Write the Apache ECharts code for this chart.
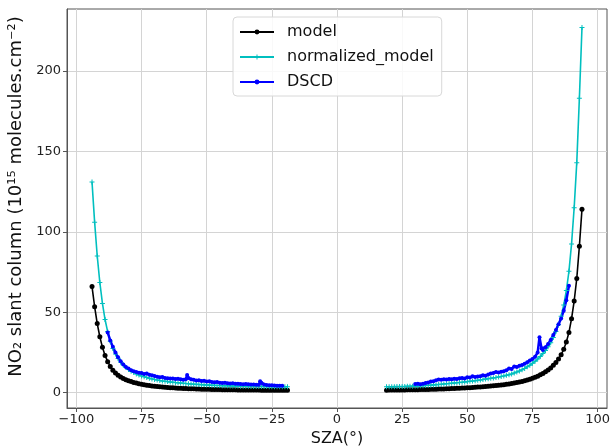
<!DOCTYPE html>
<html>
<head>
<meta charset="utf-8">
<script src="https://cdn.jsdelivr.net/npm/echarts@6/dist/echarts.min.js"></script>
<style>
  html, body { margin: 0; padding: 0; background: #fff; }
  #chart { width: 610px; height: 446px; }
</style>
</head>
<body>
<div id="chart"></div>
<script>
// SZA grid of the model curves (morning / evening)
const modelLeftSza = [-94, -93, -92, -91, -90, -89, -88, -87, -86, -85, -84, -83, -82, -81, -80, -79, -78, -77, -76, -75,
  -74, -73, -72, -71, -70, -69, -68, -67, -66, -65, -64, -63, -62, -61, -60, -59, -58, -57, -56, -55,
  -54, -53, -52, -51, -50, -49, -48, -47, -46, -45, -44, -43, -42, -41, -40, -39, -38, -37, -36, -35,
  -34, -33, -32, -31, -30, -29, -28, -27, -26, -25, -24, -23, -22, -21, -20, -19]
const modelRightSza = [19, 20, 21, 22, 23, 24, 25, 26, 27, 28, 29, 30, 31, 32, 33, 34, 35, 36, 37, 38,
  39, 40, 41, 42, 43, 44, 45, 46, 47, 48, 49, 50, 51, 52, 53, 54, 55, 56, 57, 58,
  59, 60, 61, 62, 63, 64, 65, 66, 67, 68, 69, 70, 71, 72, 73, 74, 75, 76, 77, 78,
  79, 80, 81, 82, 83, 84, 85, 86, 87, 88, 89, 90, 91, 92, 93, 94]

const modelLeft = [66, 53.5, 43, 34.8, 28.2, 23.2, 19.3, 16.3, 14, 12.3, 10.9, 9.8, 8.9, 8.1, 7.5, 6.9, 6.4, 6.0, 5.6, 5.25,
  4.95, 4.7, 4.45, 4.25, 4.05, 3.85, 3.7, 3.55, 3.4, 3.28, 3.16, 3.05, 2.95, 2.85, 2.76, 2.68, 2.6, 2.53, 2.46, 2.4,
  2.34, 2.28, 2.23, 2.18, 2.13, 2.09, 2.05, 2.01, 1.97, 1.94, 1.91, 1.88, 1.85, 1.82, 1.8, 1.78, 1.76, 1.74, 1.72, 1.7,
  1.68, 1.66, 1.65, 1.63, 1.62, 1.6, 1.59, 1.58, 1.57, 1.56, 1.55, 1.54, 1.53, 1.52, 1.51, 1.5]
const modelRight = [1.6, 1.62, 1.64, 1.66, 1.68, 1.7, 1.72, 1.75, 1.78, 1.81, 1.84, 1.87, 1.9, 1.94, 1.98, 2.02, 2.06, 2.1, 2.15, 2.2,
  2.25, 2.3, 2.36, 2.42, 2.48, 2.55, 2.62, 2.7, 2.78, 2.86, 2.95, 3.05, 3.15, 3.25, 3.36, 3.48, 3.6, 3.73, 3.87, 4.0,
  4.15, 4.3, 4.45, 4.6, 4.8, 5.0, 5.2, 5.45, 5.7, 6.0, 6.3, 6.6, 7.0, 7.4, 7.9, 8.4, 9.0, 9.6, 10.3, 11.1,
  12.0, 13.0, 14.1, 15.4, 17.0, 18.8, 21.0, 23.6, 27, 31.5, 37.5, 46, 57, 71, 91, 114]

const normLeft = [131, 106, 85, 68.5, 55.5, 45.5, 38, 32, 27.5, 24, 21.2, 19, 17.2, 15.7, 14.5, 13.4, 12.5, 11.7, 11, 10.4,
  9.9, 9.4, 9.0, 8.6, 8.2, 7.9, 7.6, 7.3, 7.1, 6.9, 6.7, 6.5, 6.3, 6.15, 6.0, 5.85, 5.7, 5.55, 5.45, 5.3,
  5.2, 5.1, 5.0, 4.9, 4.8, 4.72, 4.65, 4.58, 4.51, 4.45, 4.4, 4.35, 4.3, 4.25, 4.2, 4.16, 4.12, 4.08, 4.04, 4.0,
  3.97, 3.94, 3.91, 3.88, 3.85, 3.83, 3.81, 3.79, 3.77, 3.75, 3.74, 3.73, 3.72, 3.71, 3.7, 3.7]
const normRight = [3.7, 3.72, 3.75, 3.78, 3.81, 3.84, 3.88, 3.92, 3.97, 4.02, 4.07, 4.12, 4.2, 4.3, 4.4, 4.5, 4.6, 4.7, 4.85, 5.0,
  5.15, 5.3, 5.45, 5.6, 5.75, 5.9, 6.05, 6.2, 6.38, 6.55, 6.72, 6.9, 7.1, 7.3, 7.5, 7.72, 7.95, 8.2, 8.45, 8.7,
  8.95, 9.2, 9.5, 9.8, 10.1, 10.4, 10.8, 11.2, 11.7, 12.3, 12.9, 13.5, 14.3, 15.1, 16.1, 17.1, 18.3, 19.5, 20.9, 22.5,
  24.3, 26.3, 28.5, 31, 34.3, 38, 42.3, 47.5, 54.5, 63.5, 75.5, 92.5, 115, 143, 183, 227]

const dscdLeftSza = [-88, -87, -86, -85, -84, -83, -82, -81, -80, -79, -78, -77, -76, -75, -74, -73, -72, -71, -70, -69,
  -68, -67, -66, -65, -64, -63, -62, -61, -60, -59, -58, -57.5, -57, -56, -55, -54, -53, -52, -51, -50,
  -49, -48, -47, -46, -45, -44, -43, -42, -41, -40, -39, -38, -37, -36, -35, -34, -33, -32, -31, -30,
  -29.5, -29, -28, -27, -26, -25, -24, -23, -22, -21]
const dscdLeft = [37.5, 32.5, 28.5, 25, 22, 19.5, 17.5, 16, 15, 14, 13.3, 12.8, 12.4, 12.2, 11.6, 12, 11.1, 10.8, 10.4, 10,
  9.6, 9.8, 9.2, 9.0, 8.8, 8.9, 8.5, 8.7, 8.3, 8.1, 8.4, 11, 9.2, 8.3, 8.0, 7.6, 7.8, 7.3, 7.4, 7.0,
  7.1, 6.7, 6.5, 6.6, 6.2, 6.1, 6.2, 5.9, 5.8, 5.9, 5.6, 5.6, 5.4, 5.3, 5.4, 5.2, 5.1, 5.1, 4.9, 5.0,
  7.2, 6.0, 5.1, 4.8, 4.7, 4.6, 4.5, 4.4, 4.4, 4.3]
const dscdRightSza = [30, 31, 32, 33, 34, 35, 36, 37, 38, 39, 40, 41, 42, 43, 44, 45, 46, 47, 48, 49,
  50, 51, 52, 53, 54, 55, 56, 57, 58, 59, 60, 61, 62, 63, 64, 65, 66, 67, 68, 69,
  70, 71, 72, 73, 74, 75, 76, 77, 77.7, 78.5, 79, 80, 81, 82, 83, 84, 85, 86, 87, 88, 89]
const dscdRight = [5.4, 5.6, 5.3, 5.6, 6.0, 6.4, 6.9, 7.2, 7.7, 8.2, 8.0, 8.4, 8.2, 8.5, 8.3, 8.7, 8.5, 9.0, 9.2, 8.9,
  9.6, 9.4, 10.3, 9.8, 10.1, 10.3, 10.9, 10.6, 11.3, 12.0, 12.3, 12.9, 12.6, 13.0, 13.4, 14.0, 15.0, 14.8, 16.3, 16.0,
  16.7, 17.2, 18.0, 19.0, 20.0, 21.0, 22.4, 25.0, 34.5, 27.5, 26.5, 28.3, 30.3, 32.8, 35.8, 39, 42.5, 46.2, 51, 57.5, 66.5]

const xTicks = [-100, -75, -50, -25, 0, 25, 50, 75, 100]
const yTicks = [0, 50, 100, 150, 200]
const seriesNames = ['model', 'normalized_model', 'DSCD']

const font = 'DejaVu Sans'
const modelColor = '#000000'
const normColor = '#00bfbf'
const dscdColor = '#0000ff'
const plusSymbol = 'path://M2,0H3V2H5V3H3V5H2V3H0V2H2Z'

function pairs(xs, ys) {
  return xs.map((x, i) => [x, ys[i]])
}

function minus(value) {
  return String(value).replace('-', '\u2212')
}

function makeLine(name, data, color, symbol, symbolSize, width) {
  return {
    name,
    type: 'line',
    data,
    symbol,
    symbolSize,
    showSymbol: true,
    lineStyle: { color, width },
    itemStyle: { color },
    animation: false
  }
}

const chart = echarts.init(document.getElementById('chart'))

chart.setOption({
  backgroundColor: '#ffffff',
  animation: false,
  textStyle: { fontFamily: font },
  legend: {
    data: seriesNames,
    orient: 'vertical',
    left: 233,
    top: 17,
    itemWidth: 34,
    itemHeight: 6,
    itemGap: 9,
    padding: [7, 8, 6, 6],
    backgroundColor: 'rgba(255,255,255,0.85)',
    borderColor: '#d8d8d8',
    borderWidth: 1,
    borderRadius: 4,
    textStyle: { fontFamily: font, fontSize: 16, color: '#111', padding: [0, 0, 0, 8] }
  },
  grid: {
    left: 67,
    right: 3,
    top: 9,
    bottom: 38,
    outerBoundsMode: 'none',
    show: true,
    borderColor: '#555',
    borderWidth: 1
  },
  xAxis: {
    type: 'value',
    min: -103.6,
    max: 103.6,
    axisLine: { show: true, onZero: false, lineStyle: { color: '#555' } },
    axisTick: { show: true, length: 4, customValues: xTicks, lineStyle: { color: '#555' } },
    axisLabel: {
      customValues: xTicks,
      fontFamily: font,
      fontSize: 13,
      color: '#222',
      margin: 5,
      formatter: minus
    },
    splitLine: { show: true, lineStyle: { color: '#d4d4d4', width: 1 } },
    name: 'SZA(°)',
    nameLocation: 'middle',
    nameGap: 23,
    nameTextStyle: { fontFamily: font, fontSize: 16, color: '#111' }
  },
  yAxis: {
    type: 'value',
    min: -9.5,
    max: 238.5,
    axisLine: { show: true, onZero: false, lineStyle: { color: '#555' } },
    axisTick: { show: true, length: 4, customValues: yTicks, lineStyle: { color: '#555' } },
    axisLabel: {
      customValues: yTicks,
      fontFamily: font,
      fontSize: 13,
      color: '#222',
      margin: 6,
      formatter: minus
    },
    splitLine: { show: true, lineStyle: { color: '#d4d4d4', width: 1 } },
    name: 'NO\u2082 slant column (10\u00b9\u2075 molecules.cm\u207b\u00b2)',
    nameLocation: 'middle',
    nameRotate: 90,
    nameGap: 38,
    nameTextStyle: { fontFamily: font, fontSize: 18, color: '#111', padding: [0, 0, 0, 24] }
  },
  series: [
    makeLine('model', pairs(modelLeftSza, modelLeft), modelColor, 'circle', 5, 1.6),
    makeLine('model', pairs(modelRightSza, modelRight), modelColor, 'circle', 5, 1.6),
    makeLine('normalized_model', pairs(modelLeftSza, normLeft), normColor, plusSymbol, 5, 1.6),
    makeLine('normalized_model', pairs(modelRightSza, normRight), normColor, plusSymbol, 5, 1.6),
    makeLine('DSCD', pairs(dscdLeftSza, dscdLeft), dscdColor, 'circle', 4, 2.5),
    makeLine('DSCD', pairs(dscdRightSza, dscdRight), dscdColor, 'circle', 4, 2.5)
  ]
})
</script>
</body>
</html>
